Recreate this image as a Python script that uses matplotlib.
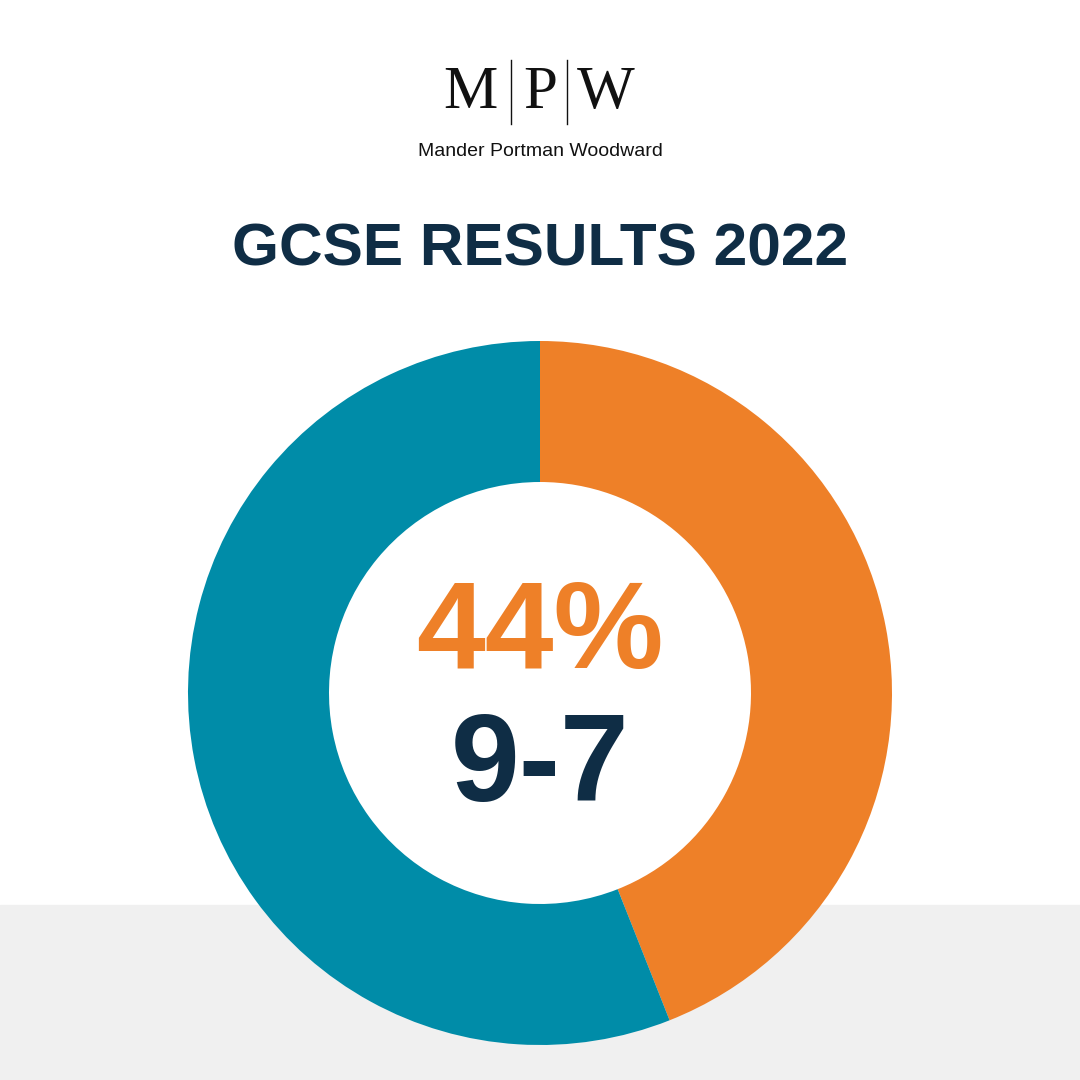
import matplotlib
matplotlib.use("Agg")
import matplotlib.pyplot as plt
from matplotlib.patches import Rectangle

labels = ["Grades 9-7", "Other grades"]
values = [44, 56]
colors = ["#EE8028", "#008CA8"]
navy = "#0F2D45"

fig = plt.figure(figsize=(10.8, 10.8), dpi=100)
ax = fig.add_axes([0, 0, 1, 1])

ax.add_patch(Rectangle((0, 905), 1080, 175, color="#F0F0F0", zorder=0))

# y axis is inverted: startangle -90 is visual top, counterclock draws visually clockwise
ax.pie(values, colors=colors, startangle=-90, counterclock=True,
       center=(540, 693), radius=352,
       wedgeprops=dict(width=141, linewidth=0))
ax.set_xlim(0, 1080)
ax.set_ylim(1080, 0)
ax.set_aspect("equal")
ax.axis("off")

# logo
for x, ch in [(470, "M"), (540, "P"), (606, "W")]:
    ax.text(x, 93, ch, family="Liberation Serif", fontsize=44, color="#111111",
            ha="center", va="center")
for x in [511, 567]:
    ax.plot([x, x], [60, 124], color="#111111", lw=1)
ax.text(540, 151, "Mander Portman Woodward", family="Liberation Sans", fontsize=14,
        color="#111111", ha="center", va="center")

ax.text(540, 250, "GCSE RESULTS 2022", family="Liberation Sans", fontweight="bold",
        fontsize=43.5, color=navy, ha="center", va="center")

ax.text(540, 636, f"{values[0]}%", family="Liberation Sans", fontweight="bold",
        fontsize=89, color=colors[0], ha="center", va="center")
ax.text(540, 769, "9-7", family="Liberation Sans", fontweight="bold",
        fontsize=89, color=navy, ha="center", va="center")

fig.savefig("out.png", dpi=100)
